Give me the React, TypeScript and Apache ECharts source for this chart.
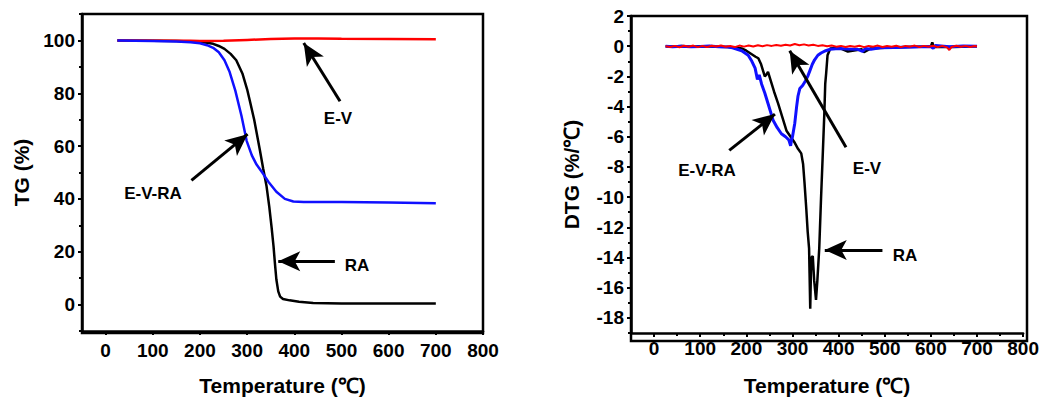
import React, { useEffect, useRef } from "react";
import * as echarts from "echarts";

// ---------- data ----------
// TG (%) vs temperature (°C)
const tgRA: [number, number][] = [
  [25, 100], [100, 99.9], [150, 99.8], [180, 99.6], [200, 99.4], [215, 99.1], [228, 98.7], [240, 97.9],
  [252, 96.8], [265, 94.9], [277, 92.5], [290, 87.5], [300, 81.5], [306, 77], [315, 70], [327, 58.5],
  [334, 51.5], [341, 45], [347, 37], [352, 29], [356, 22], [359, 15.5], [362, 9.5], [366, 5],
  [370, 3], [376, 2.1], [390, 1.6], [410, 1.1], [440, 0.6], [500, 0.4], [600, 0.4], [700, 0.4],
];
const tgEVRA: [number, number][] = [
  [25, 100], [100, 99.8], [150, 99.6], [180, 99.3], [200, 98.9], [215, 98.2], [228, 97.2], [240, 95.5],
  [252, 92.5], [263, 88], [275, 81], [288, 71.5], [299, 62], [310, 56.5], [320, 53], [334, 49.5],
  [345, 46.5], [362, 42.7], [380, 40], [398, 39], [420, 38.8], [500, 38.8], [600, 38.6], [700, 38.4],
];
const tgEV: [number, number][] = [
  [25, 100], [180, 99.9], [200, 99.8], [250, 99.9], [300, 100.2], [350, 100.5], [400, 100.7],
  [450, 100.7], [500, 100.6], [600, 100.5], [700, 100.4],
];

// DTG (%/°C) vs temperature (°C)
const dtgRA: [number, number][] = [
  [25, 0], [40, -0.02], [60, 0.01], [80, -0.03], [100, 0], [120, -0.02], [140, -0.04], [160, -0.05],
  [180, -0.1], [190, -0.15], [200, -0.3], [210, -0.5], [220, -0.7], [226, -0.8], [232, -1.2], [237, -1.7],
  [240, -2.0], [243, -1.9], [247, -1.7], [252, -2.2], [260, -3.0], [269, -3.8], [278, -4.7], [287, -5.6],
  [296, -6.0], [305, -6.4], [312, -6.8], [319, -7.1], [323, -7.8], [326, -9], [330, -10.8], [333, -12.3],
  [336, -13.4], [337, -15], [338.5, -17.4], [340, -15], [341, -14], [344, -13.9], [347, -15.5], [351, -16.8],
  [354, -15.5], [358, -13.4], [362, -10], [366, -6.9], [369, -4.5], [371, -2.5], [373, -1.8], [376, -0.6],
  [382, -0.15], [400, -0.1], [420, -0.35], [430, -0.3], [450, -0.2], [455, -0.4], [470, -0.15], [500, -0.1],
  [550, -0.05], [600, -0.02], [603, 0.25], [606, -0.05], [650, -0.05], [700, 0],
];
const dtgEVRA: [number, number][] = [
  [25, 0], [40, -0.03], [60, 0], [80, -0.04], [100, -0.02], [120, 0.01], [140, -0.03], [160, -0.05],
  [170, -0.1], [180, -0.2], [190, -0.3], [204, -0.6], [212, -1.0], [219, -1.45], [224, -2.2], [228, -1.9],
  [233, -2.5], [240, -3.1], [247, -3.8], [258, -4.9], [267, -5.4], [276, -5.8], [285, -6.0], [292, -6.2],
  [296, -6.6], [298, -6.2], [300, -6.0], [305, -5.1], [309, -4.0], [312, -3.3], [316, -2.8], [322, -2.6],
  [328, -2.3], [333, -2.0], [338, -1.6], [343, -1.2], [348, -0.9], [355, -0.6], [362, -0.45], [372, -0.3],
  [382, -0.2], [400, -0.15], [420, -0.18], [440, -0.2], [452, -0.35], [458, -0.15], [470, -0.2], [490, -0.1],
  [520, -0.08], [560, -0.05], [600, -0.02], [605, -0.15], [610, 0.05], [640, -0.03], [670, 0.02], [700, 0],
];
const dtgEV: [number, number][] = [
  [25, 0], [35, -0.05], [45, 0.02], [55, -0.07], [65, 0.03], [75, -0.04], [85, 0.04], [95, -0.06],
  [105, 0.02], [115, -0.05], [125, 0.03], [135, -0.02], [145, 0.05], [155, -0.04], [165, 0.01], [175, -0.06],
  [185, 0.04], [195, -0.03], [205, 0.05], [215, -0.02], [225, 0.06], [235, -0.01], [245, 0.07], [255, 0.02],
  [265, 0.08], [275, 0.03], [285, 0.1], [295, 0.05], [305, 0.14], [315, 0.06], [325, 0.12], [335, 0.04],
  [345, 0.09], [355, 0.02], [365, 0.06], [375, -0.01], [385, 0.04], [395, -0.03], [405, 0.02], [415, -0.05],
  [425, 0.01], [435, -0.04], [445, 0.03], [455, -0.06], [465, 0.02], [475, -0.03], [485, 0.04], [495, -0.05],
  [505, 0.01], [515, -0.04], [525, 0.03], [535, -0.06], [545, 0.02], [555, -0.03], [565, 0.04], [575, -0.05],
  [585, 0.02], [595, -0.04], [605, 0.03], [615, -0.06], [625, 0.02], [635, -0.08], [640, -0.25], [645, -0.05],
  [655, 0.03], [665, -0.04], [675, 0.02], [685, -0.05], [695, 0.01], [700, -0.02],
];

// annotation arrows: [tail, head] in data coordinates
const tgArrows: [[number, number], [number, number]][] = [
  [[497, 77], [420, 99]],
  [[182, 47], [301, 64.5]],
  [[486, 16.4], [366, 16.4]],
];
const dtgArrows: [[number, number], [number, number]][] = [
  [[163, -6.9], [262, -4.5]],
  [[416, -6.7], [294, -0.3]],
  [[495, -13.5], [370, -13.5]],
];

const tgLabels = ["E-V", "E-V-RA", "RA"];
const dtgLabels = ["E-V-RA", "E-V", "RA"];

const FONT = "'Liberation Sans', Arial, sans-serif";
const GRIDS = [
  { left: 82, top: 14, width: 401, height: 319 },
  { left: 631, top: 16, width: 396, height: 325 },
];

function arrowMarkLine(arrows: [[number, number], [number, number]][]) {
  return {
    silent: true,
    symbol: ["none", "arrow"],
    symbolSize: [15, 22],
    lineStyle: { color: "#000", width: 3, type: "solid" },
    label: { show: false },
    data: arrows.map(([a, b]) => [{ coord: a }, { coord: b }]),
  };
}

const TICK = { color: "#000", width: 2 };

function mainX(gridIndex: number, labelMargin: number, nameGap: number) {
  return {
    type: "value",
    gridIndex,
    position: "bottom",
    min: -50,
    max: 800,
    minInterval: 100,
    maxInterval: 100,
    name: "Temperature (℃)",
    nameLocation: "middle",
    nameGap,
    nameTextStyle: { fontFamily: FONT, fontWeight: "bold", fontSize: 21, color: "#000" },
    splitLine: { show: false },
    axisLine: { show: true, onZero: false, lineStyle: { color: "#000", width: 2.5 } },
    axisTick: { show: true, inside: false, length: 4, lineStyle: TICK },
    axisLabel: {
      showMinLabel: false,
      margin: labelMargin,
      fontFamily: FONT,
      fontWeight: "bold",
      fontSize: 19,
      color: "#000",
      formatter: (v: number) => (v % 100 === 0 ? String(v) : ""),
    },
  };
}

function mainY(gridIndex: number, min: number, max: number, step: number, name: string, nameGap: number) {
  return {
    type: "value",
    gridIndex,
    position: "left",
    min,
    max,
    minInterval: step,
    maxInterval: step,
    name,
    nameLocation: "middle",
    nameGap,
    nameTextStyle: { fontFamily: FONT, fontWeight: "bold", fontSize: 21, color: "#000" },
    splitLine: { show: false },
    axisLine: { show: true, onZero: false, lineStyle: { color: "#000", width: 2.5 } },
    axisTick: { show: true, inside: false, length: 4, lineStyle: TICK },
    axisLabel: {
      showMinLabel: false,
      showMaxLabel: max % step === 0,
      margin: 7,
      fontFamily: FONT,
      fontWeight: "bold",
      fontSize: 19,
      color: "#000",
      formatter: (v: number) => (v % step === 0 ? String(v) : ""),
    },
  };
}

function minorAxis(gridIndex: number, position: string, min: number, max: number, step: number) {
  return {
    type: "value",
    gridIndex,
    position,
    min,
    max,
    interval: step,
    splitLine: { show: false },
    axisLine: { show: false, onZero: false },
    axisTick: { show: true, inside: false, length: 3, lineStyle: TICK },
    axisLabel: { show: false },
  };
}

function line(data: [number, number][], color: string, width: number, xi: number, yi: number, extra: any = {}) {
  return {
    type: "line",
    xAxisIndex: xi,
    yAxisIndex: yi,
    data,
    showSymbol: false,
    symbol: "none",
    lineStyle: { color, width },
    ...extra,
  };
}

function labelText(text: string, x: number, y: number) {
  return {
    type: "text",
    x,
    y,
    silent: true,
    style: {
      text,
      fill: "#000",
      font: `bold 17px ${FONT}`,
      textAlign: "center",
      textVerticalAlign: "middle",
    },
  };
}

function frame(g: { left: number; top: number; width: number; height: number }) {
  return {
    type: "rect",
    silent: true,
    z: 100,
    shape: { x: g.left, y: g.top, width: g.width, height: g.height },
    style: { fill: "none", stroke: "#000", lineWidth: 2.5 },
  };
}

export default function App() {
  const ref = useRef<HTMLDivElement>(null);
  useEffect(() => {
    if (!ref.current) return;
    const chart = echarts.init(ref.current, undefined, { renderer: "svg" });
    const tgLabelPos: [number, number][] = [[338, 118], [153, 193], [357, 265]];
    const dtgLabelPos: [number, number][] = [[707, 170], [867, 168], [905, 255]];
    chart.setOption({
      animation: false,
      grid: GRIDS.map((g) => ({ ...g, show: false })),
      xAxis: [
        mainX(0, 10, 44),
        mainX(1, 6, 42),
        minorAxis(0, "bottom", -50, 800, 50),
        minorAxis(1, "bottom", -50, 800, 50),
      ],
      yAxis: [
        mainY(0, -10, 110, 20, "TG (%)", 50),
        mainY(1, -19, 2, 2, "DTG (%/℃)", 49),
        minorAxis(0, "left", -10, 110, 10),
        minorAxis(1, "left", -19, 2, 1),
      ],
      series: [
        line(tgRA, "#000", 2.5, 0, 0, { markLine: arrowMarkLine(tgArrows) }),
        line(tgEV, "#ff0000", 2.5, 0, 0),
        line(tgEVRA, "#1010ff", 2.5, 0, 0),
        line(dtgRA, "#000", 2.5, 1, 1, { markLine: arrowMarkLine(dtgArrows) }),
        line(dtgEVRA, "#1010ff", 3, 1, 1),
        line(dtgEV, "#ff0000", 2, 1, 1),
      ],
      graphic: [
        ...GRIDS.map(frame),
        ...tgLabels.map((t, i) => labelText(t, tgLabelPos[i][0], tgLabelPos[i][1])),
        ...dtgLabels.map((t, i) => labelText(t, dtgLabelPos[i][0], dtgLabelPos[i][1])),
      ],
    });
    return () => chart.dispose();
  }, []);
  return (
    <div
      ref={ref}
      style={{ position: "absolute", left: 0, top: 0, width: 1042, height: 401, background: "#fff" }}
    />
  );
}
